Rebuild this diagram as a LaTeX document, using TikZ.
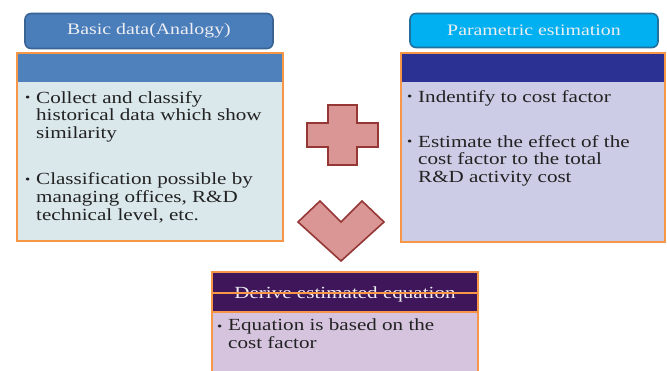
\documentclass[tikz,border=0pt]{standalone}
\usepackage{fontspec}
\setmainfont{Liberation Serif}[FakeStretch=1.24]
\definecolor{ltitlefill}{HTML}{4A7EBB}
\definecolor{ltitledraw}{HTML}{3A6494}
\definecolor{lhead}{HTML}{4F81BD}
\definecolor{lbody}{HTML}{DAE8EC}
\definecolor{rtitlefill}{HTML}{00B0F0}
\definecolor{rtitledraw}{HTML}{22709E}
\definecolor{rhead}{HTML}{2B3192}
\definecolor{rbody}{HTML}{CCCCE6}
\definecolor{bhead}{HTML}{3F1659}
\definecolor{bbody}{HTML}{D6C4DF}
\definecolor{orangeb}{HTML}{F79646}
\definecolor{shapefill}{HTML}{D99694}
\definecolor{shapedraw}{HTML}{953735}
\definecolor{textdark}{HTML}{222222}
\definecolor{textlight}{HTML}{EEEEF2}
\begin{document}
\begin{tikzpicture}[x=1pt,y=-1pt,
  titlebox/.style={rounded corners=6pt, line width=1.6pt, inner sep=0pt,
    text=textlight, font=\fontsize{16}{18}\selectfont},
  bodybox/.style={inner sep=0pt, draw=none},
  band/.style={inner sep=0pt, draw=none},
  frame/.style={draw=orangeb, line width=2pt},
  bullettext/.style={anchor=base west, inner sep=0pt, align=left, text=textdark,
    font=\fontsize{17}{17.7}\selectfont},
  bulletdot/.style={anchor=base west, inner sep=0pt, text=textdark,
    font=\fontsize{12}{14}\selectfont},
  sign/.style={fill=shapefill, draw=shapedraw, line width=1.6pt, line join=miter}
]
\useasboundingbox (0,0) rectangle (667,370);
\fill[white] (0,0) rectangle (667,370);

% ---------- left ----------
\node[titlebox, fill=ltitlefill, draw=ltitledraw, minimum width=248pt, minimum height=35pt]
  (ltitle) at (149,31) {Basic data(Analogy)};
\node[bodybox, fill=lbody, minimum width=266pt, minimum height=188pt] (lbox) at (150,147) {};
\node[band, fill=lhead, minimum width=266pt, minimum height=29pt] (lhead) at (150,67.5) {};
\draw[frame] (lbox.north west) rectangle (lbox.south east);
\node[bulletdot] (lb1) at (25,101) {•};
\node[bullettext] (lt1) at (36,138.5) {Collect and classify\\historical data which show\\similarity};
\node[bulletdot] (lb2) at (25,183) {•};
\node[bullettext] (lt2) at (36,220) {Classification possible by\\managing offices, R\&D\\technical level, etc.};

% ---------- right ----------
\node[titlebox, fill=rtitlefill, draw=rtitledraw, minimum width=248pt, minimum height=34pt]
  (rtitle) at (534,30.5) {Parametric estimation};
\node[bodybox, fill=rbody, minimum width=264pt, minimum height=189pt] (rbox) at (533,147.5) {};
\node[band, fill=rhead, minimum width=264pt, minimum height=29pt] (rhead) at (533,67.5) {};
\draw[frame] (rbox.north west) rectangle (rbox.south east);
\node[bulletdot] (rb1) at (407,100) {•};
\node[bullettext] (rt1) at (418,102) {Indentify to cost factor};
\node[bulletdot] (rb2) at (407,145) {•};
\node[bullettext] (rt2) at (418,182.5) {Estimate the effect of the\\cost factor to the total\\R\&D activity cost};

% ---------- bottom ----------
\node[bodybox, fill=bbody, minimum width=266pt, minimum height=101pt] (bbox) at (345,322.5) {};
\node[band, fill=bhead, minimum width=266pt, minimum height=40pt] (bhead) at (345,292) {};
\draw[frame] (bbox.south west) -- (bbox.north west) -- (bbox.north east) -- (bbox.south east);
\draw[draw=orangeb, line width=1.5pt] (bhead.south west) -- (bhead.south east);
\node[anchor=base, inner sep=0pt, text=textlight, font=\fontsize{17}{18}\selectfont]
  (btitle) at (345,298) {Derive estimated equation};
\draw[draw=orangeb, line width=1.2pt] (bhead.west) ++(0,1) -- ([yshift=-1pt]bhead.east);
\node[bulletdot] (bb1) at (217,330) {•};
\node[bullettext] (bt1) at (228,348.5) {Equation is based on the\\cost factor};

% ---------- plus ----------
\draw[sign] (328,105) -- (357,105) -- (357,123) -- (378,123) -- (378,147) -- (357,147)
  -- (357,165) -- (328,165) -- (328,147) -- (307,147) -- (307,123) -- (328,123) -- cycle;

% ---------- chevron ----------
\draw[sign] (298,222) -- (320,201) -- (341,222) -- (362,201) -- (384,222) -- (341,261) -- cycle;
\end{tikzpicture}
\end{document}
